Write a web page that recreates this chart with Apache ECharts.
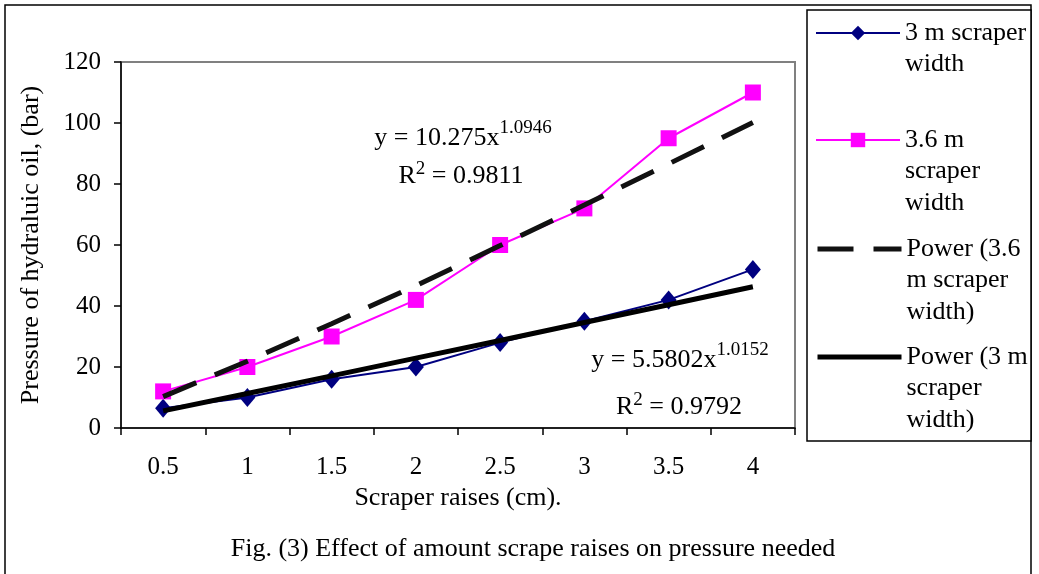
<!DOCTYPE html>
<html>
<head>
<meta charset="utf-8">
<script src="https://cdn.jsdelivr.net/npm/echarts@6/dist/echarts.min.js"></script>
<style>html,body{margin:0;padding:0;background:#fff}#c{width:1039px;height:574px}</style>
</head>
<body>
<div id="c"></div>
<script>
var categories = ['0.5', '1', '1.5', '2', '2.5', '3', '3.5', '4'];
var yTicks = [0, 20, 40, 60, 80, 100, 120];
var width3m = [6.5, 10, 16, 20, 28, 35, 42, 52];
var width36m = [12, 20, 30, 42, 60, 72, 95, 110];
var power36m = [10.3, 21.9, 34.2, 46.7, 59.8, 73.1, 86.6, 100.2];
var power3m = [5.6, 11.3, 17.1, 22.9, 28.7, 34.6, 40.4, 46.3];
var seriesNames = ['3 m scraper width', '3.6 m scraper width', 'Power (3.6 m scraper width)', 'Power (3 m scraper width)'];
var legendLines = [['3 m scraper', 'width'], ['3.6 m', 'scraper', 'width'], ['Power (3.6', 'm scraper', 'width)'], ['Power (3 m', 'scraper', 'width)']];

var FONT = 'Liberation Serif';
var chart = echarts.init(document.getElementById('c'), null, {renderer: 'canvas'});

var L = 31.5;
var legendCenters = [33, 140, 249, 357];
var legendLineWidths = [2, 2, 5, 5];
var legends = seriesNames.map(function (name, i) {
  var n = legendLines[i].length;
  var pre = '';
  for (var k = 0; k < n - 1; k++) pre += ' \n';
  return {
    data: [name],
    orient: 'vertical',
    left: 815,
    top: legendCenters[i] - (2 * n - 1) * L / 2,
    padding: 0,
    itemWidth: 84,
    itemHeight: 18,
    itemGap: 0,
    selectedMode: false,
    formatter: function () { return pre + legendLines[i].join('\n'); },
    textStyle: {fontFamily: FONT, fontSize: 26, lineHeight: L, color: '#000'},
    lineStyle: {width: legendLineWidths[i]},
    itemStyle: i >= 2 ? {opacity: 0} : {}
  };
});

function eqText(parts, cx, cy, pad) {
  var txt = parts.map(function (p) { return '{' + p[0] + '|' + p[1] + '}'; }).join('');
  return {
    type: 'text', x: cx, y: cy, z: 100,
    style: {
      text: txt,
      align: 'center', verticalAlign: 'middle', fill: '#000',
      rich: {
        a: {fontFamily: FONT, fontSize: 26, lineHeight: 26, padding: [pad, 0, 0, 0], fill: '#000'},
        s: {fontFamily: FONT, fontSize: 19, lineHeight: 19, verticalAlign: 'top', fill: '#000'}
      }
    }
  };
}

var option = {
  backgroundColor: '#fff',
  animation: false,
  textStyle: {fontFamily: FONT},
  grid: {left: 121, top: 62, right: 244, bottom: 146, show: true, borderColor: '#808080', borderWidth: 2, backgroundColor: 'transparent'},
  legend: legends,
  xAxis: {
    type: 'category', data: categories, boundaryGap: true,
    name: 'Scraper raises (cm).', nameLocation: 'middle', nameGap: 43,
    nameTextStyle: {fontFamily: FONT, fontSize: 26, color: '#000'},
    axisLine: {lineStyle: {color: '#000', width: 1.5}},
    axisTick: {show: true, inside: false, length: 7, alignWithLabel: false, interval: 0, lineStyle: {color: '#000', width: 1.5}},
    axisLabel: {fontFamily: FONT, fontSize: 25, color: '#000', margin: 27, interval: 0},
    splitLine: {show: false}
  },
  yAxis: {
    type: 'value', min: yTicks[0], max: yTicks[yTicks.length - 1], interval: 20,
    name: 'Pressure of hydraluic oil, (bar)', nameLocation: 'middle', nameGap: 77, nameRotate: 90,
    nameTextStyle: {fontFamily: FONT, fontSize: 26, color: '#000'},
    axisLine: {show: true, lineStyle: {color: '#000', width: 1.5}},
    axisTick: {show: true, inside: false, length: 7, lineStyle: {color: '#000', width: 1.5}},
    axisLabel: {fontFamily: FONT, fontSize: 25, color: '#000', margin: 20},
    splitLine: {show: false}
  },
  series: [
    {name: seriesNames[0], type: 'line', data: width3m, symbol: 'diamond', symbolSize: [16, 19],
      lineStyle: {color: '#000080', width: 2}, itemStyle: {color: '#000080'}, z: 2},
    {name: seriesNames[1], type: 'line', data: width36m, symbol: 'rect', symbolSize: 16,
      lineStyle: {color: '#FF00FF', width: 2}, itemStyle: {color: '#FF00FF'}, z: 2},
    {name: seriesNames[2], type: 'line', data: power36m, symbol: 'none', showSymbol: false,
      lineStyle: {color: '#111', width: 5, type: [36, 20]}, itemStyle: {color: '#111'}, z: 3},
    {name: seriesNames[3], type: 'line', data: power3m, symbol: 'none', showSymbol: false,
      lineStyle: {color: '#000', width: 5}, itemStyle: {color: '#000'}, z: 3}
  ],
  graphic: [
    {type: 'rect', shape: {x: 5, y: 5, width: 1026, height: 620}, style: {fill: 'none', stroke: '#000', lineWidth: 1.5}, z: -1, silent: true},
    {type: 'rect', shape: {x: 807, y: 10, width: 224, height: 431}, style: {fill: '#fff', stroke: '#000', lineWidth: 1.5}, z: -1, silent: true},
    eqText([['a', 'y = 10.275x'], ['s', '1.0946']], 463, 132, 12),
    eqText([['a', 'R'], ['s', '2'], ['a', ' = 0.9811']], 461, 173, 6),
    eqText([['a', 'y = 5.5802x'], ['s', '1.0152']], 680, 354, 12),
    eqText([['a', 'R'], ['s', '2'], ['a', ' = 0.9792']], 679, 404, 6),
    {type: 'text', x: 533, y: 549, style: {text: 'Fig. (3) Effect of amount scrape raises on pressure needed', fontFamily: FONT, fontSize: 26, fill: '#000', align: 'center', verticalAlign: 'middle'}}
  ]
};
chart.setOption(option);
</script>
</body>
</html>
